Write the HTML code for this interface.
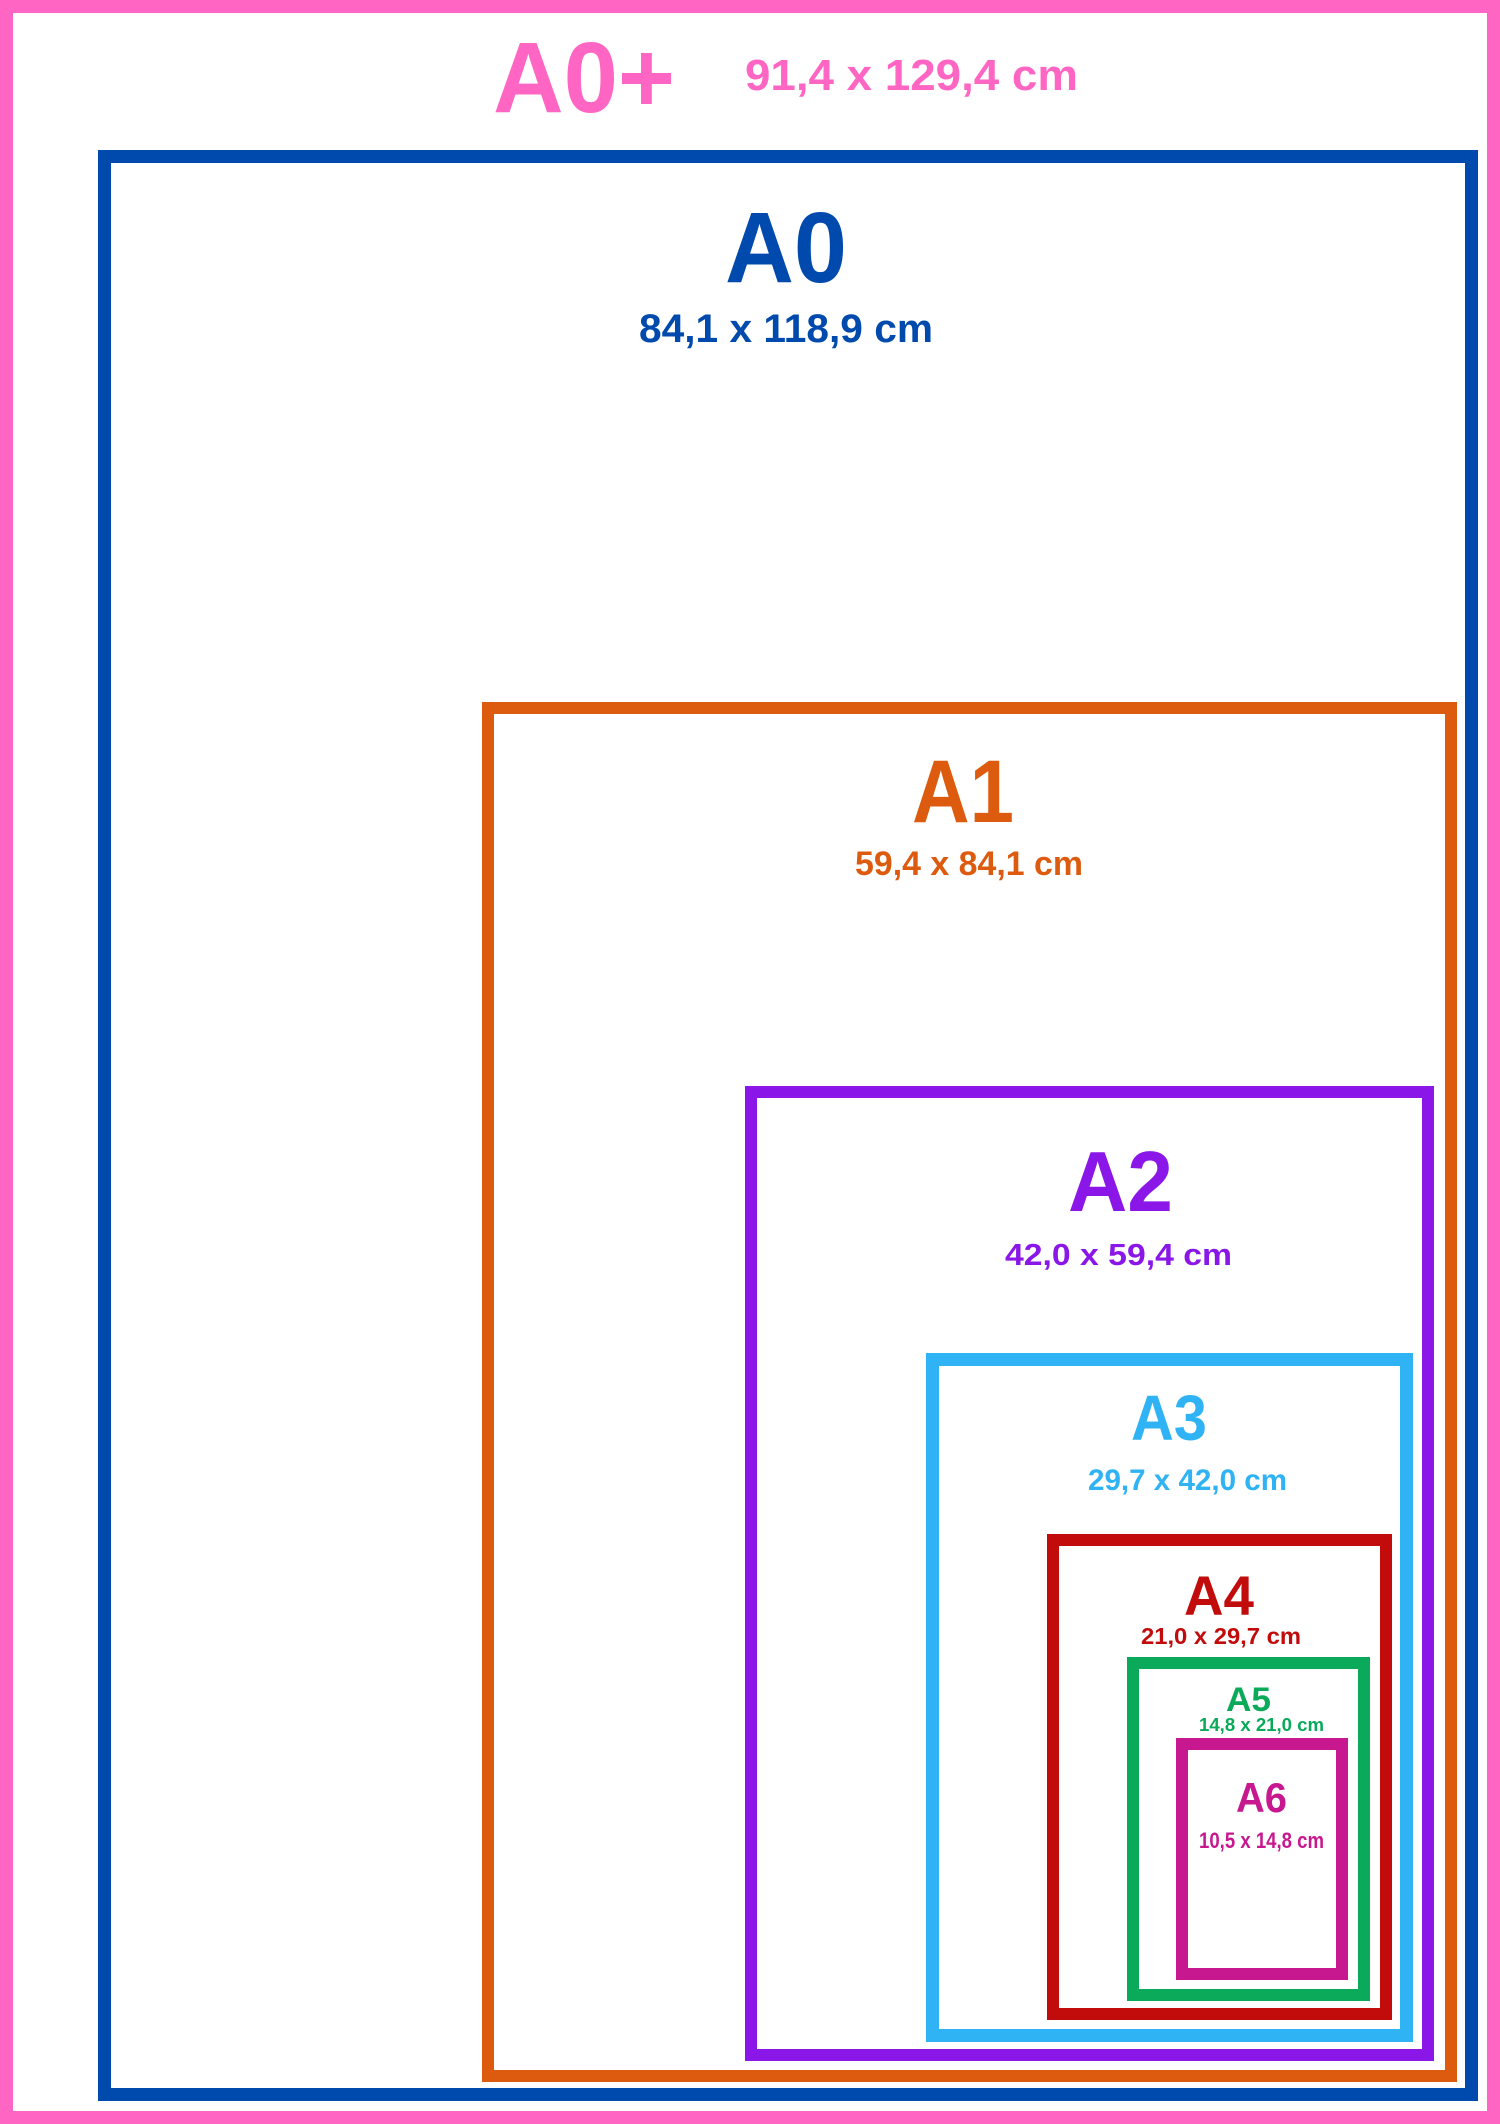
<!DOCTYPE html>
<html><head><meta charset="utf-8"><style>
html,body{margin:0;padding:0;background:#fff;}
svg{display:block;}
text{font-family:"Liberation Sans",sans-serif;font-weight:bold;}
</style></head><body>
<svg width="1500" height="2124" viewBox="0 0 1500 2124" xmlns="http://www.w3.org/2000/svg">
<rect x="0" y="0" width="1500" height="2124" fill="#fff"/>
<g fill="none">
<rect x="6.5" y="6.5" width="1487" height="2111" stroke="#ff66c4" stroke-width="13"/>
<rect x="104.5" y="156.5" width="1367" height="1938" stroke="#004aad" stroke-width="13"/>
<rect x="488" y="708" width="963" height="1368" stroke="#dc5b0f" stroke-width="12"/>
<rect x="751" y="1092" width="677" height="963" stroke="#8a17e8" stroke-width="12"/>
<rect x="932.5" y="1359.5" width="474" height="676" stroke="#30b3f5" stroke-width="13"/>
<rect x="1053" y="1540" width="333" height="474" stroke="#c20c0c" stroke-width="12"/>
<rect x="1133" y="1663" width="231" height="332" stroke="#0aaa5a" stroke-width="12"/>
<rect x="1182" y="1744" width="160" height="230" stroke="#c7188f" stroke-width="12"/>
</g>
<g>
<text x="493" y="112" font-size="100" fill="#ff66c4" textLength="182" lengthAdjust="spacingAndGlyphs">A0+</text>
<text x="745" y="90" font-size="44" fill="#ff66c4" textLength="333" lengthAdjust="spacingAndGlyphs">91,4 x 129,4 cm</text>
<text x="725" y="282" font-size="100" fill="#004aad" textLength="122" lengthAdjust="spacingAndGlyphs">A0</text>
<text x="639" y="342" font-size="40" fill="#004aad" textLength="294" lengthAdjust="spacingAndGlyphs">84,1 x 118,9 cm</text>
<text x="912" y="822" font-size="89" fill="#dc5b0f" textLength="102" lengthAdjust="spacingAndGlyphs">A1</text>
<text x="855" y="875" font-size="34" fill="#dc5b0f" textLength="228" lengthAdjust="spacingAndGlyphs">59,4 x 84,1 cm</text>
<text x="1068" y="1211" font-size="85" fill="#8a17e8" textLength="105" lengthAdjust="spacingAndGlyphs">A2</text>
<text x="1005" y="1265" font-size="31" fill="#8a17e8" textLength="227" lengthAdjust="spacingAndGlyphs">42,0 x 59,4 cm</text>
<text x="1131" y="1440" font-size="64" fill="#30b3f5" textLength="76" lengthAdjust="spacingAndGlyphs">A3</text>
<text x="1088" y="1490" font-size="30" fill="#30b3f5" textLength="199" lengthAdjust="spacingAndGlyphs">29,7 x 42,0 cm</text>
<text x="1184" y="1615" font-size="56" fill="#c20c0c" textLength="70" lengthAdjust="spacingAndGlyphs">A4</text>
<text x="1141" y="1644" font-size="23" fill="#c20c0c" textLength="160" lengthAdjust="spacingAndGlyphs">21,0 x 29,7 cm</text>
<text x="1226" y="1711" font-size="34" fill="#0aaa5a" textLength="45" lengthAdjust="spacingAndGlyphs">A5</text>
<text x="1199" y="1731" font-size="18" fill="#0aaa5a" textLength="125" lengthAdjust="spacingAndGlyphs">14,8 x 21,0 cm</text>
<text x="1236" y="1812" font-size="42" fill="#c7188f" textLength="51" lengthAdjust="spacingAndGlyphs">A6</text>
<text x="1199" y="1848" font-size="22" fill="#c7188f" textLength="125" lengthAdjust="spacingAndGlyphs">10,5 x 14,8 cm</text>
</g>
</svg>
</body></html>
